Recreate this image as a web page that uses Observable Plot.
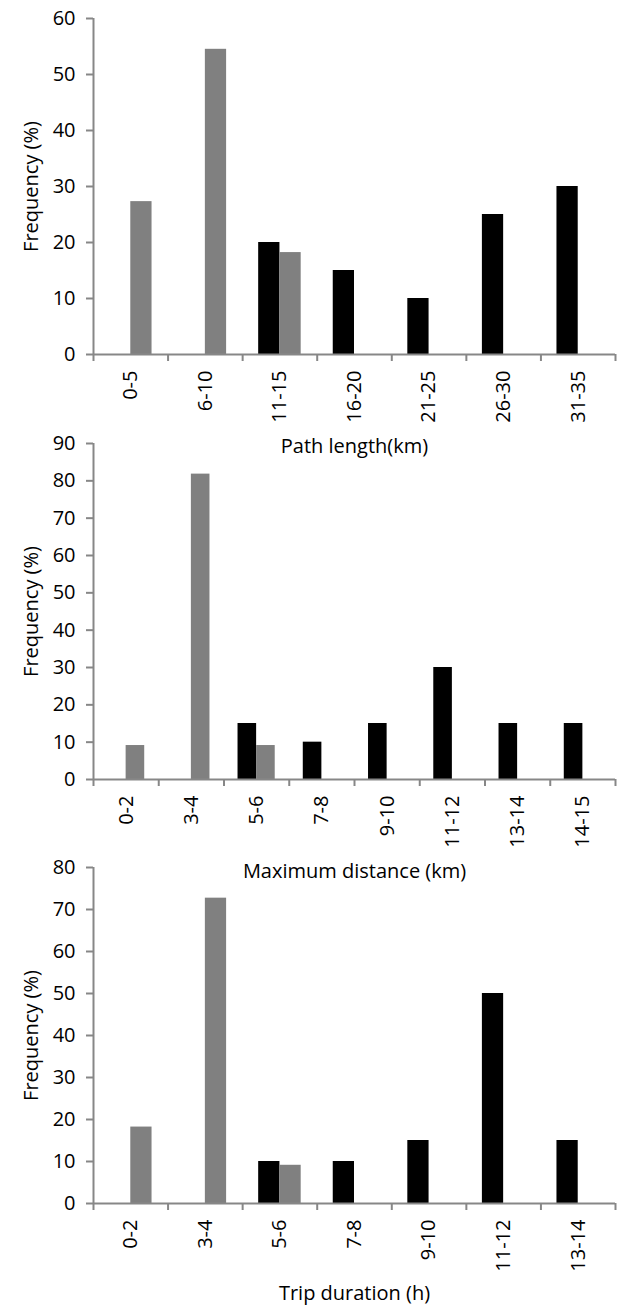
<!DOCTYPE html>
<html><head><meta charset="utf-8">
<script src="https://cdn.jsdelivr.net/npm/d3@7"></script>
<script src="https://cdn.jsdelivr.net/npm/@observablehq/plot@0.6"></script>
<style>
html,body{margin:0;padding:0;background:#fff;}
#wrap{position:relative;width:621px;height:1305px;overflow:hidden;background:#fff;}
#wrap > svg{position:absolute;left:0;margin:0;}
</style></head><body><div id="wrap"></div>
<script>
// Panel 1: Path length
const pathCats  = ["0-5","6-10","11-15","16-20","21-25","26-30","31-35"];
const pathBlack = [null, null, 20, 15, 10, 25, 30];
const pathGray  = [27.3, 54.5, 18.2, null, null, null, null];
const pathTicks = [0, 10, 20, 30, 40, 50, 60];
const pathLabel = "Path length(km)";

// Panel 2: Maximum distance
const distCats  = ["0-2","3-4","5-6","7-8","9-10","11-12","13-14","14-15"];
const distBlack = [null, null, 15, 10, 15, 30, 15, 15];
const distGray  = [9.1, 81.8, 9.1, null, null, null, null, null];
const distTicks = [0, 10, 20, 30, 40, 50, 60, 70, 80, 90];
const distLabel = "Maximum distance (km)";

// Panel 3: Trip duration
const durCats  = ["0-2","3-4","5-6","7-8","9-10","11-12","13-14"];
const durBlack = [null, null, 10, 10, 15, 50, 15];
const durGray  = [18.2, 72.7, 9.1, null, null, null, null];
const durTicks = [0, 10, 20, 30, 40, 50, 60, 70, 80];
const durLabel = "Trip duration (h)";

const W = 621, ML = 93, MR = 6, MT = 10, PH = 336, MB = 109;
const axisColor = "#878787";
const FS = 20;

function panel(cats, black, gray, ticks, xLabel, top, xLabelOffset) {
  const bw = (W - ML - MR) / cats.length;
  const barW = 0.285 * bw;
  const rows = [];
  cats.forEach((c, i) => {
    if (black[i] != null) rows.push({cat: c, series: "black", value: black[i]});
    if (gray[i] != null) rows.push({cat: c, series: "gray", value: gray[i]});
  });
  const yMax = d3.max(ticks);
  const svg = Plot.plot({
    width: W, height: MT + PH + MB,
    marginLeft: ML, marginRight: MR, marginTop: MT, marginBottom: MB,
    style: {fontFamily: "'Open Sans', sans-serif", fontSize: FS + "px", background: "transparent", overflow: "visible", color: "#000"},
    x: {type: "band", domain: cats, padding: 0, round: false},
    y: {domain: [0, yMax]},
    marks: [
      Plot.barY(rows.filter(d => d.series === "black"), {x: "cat", y: "value", fill: "#000", insetLeft: bw / 2 - barW, insetRight: bw / 2}),
      Plot.barY(rows.filter(d => d.series === "gray"), {x: "cat", y: "value", fill: "#808080", insetLeft: bw / 2, insetRight: bw / 2 - barW}),
      // x axis line
      Plot.ruleY([0], {stroke: axisColor, strokeWidth: 2}),
      // y axis line
      Plot.ruleX([cats[0]], {x: d => d, y1: 0, y2: yMax, dx: -bw / 2, stroke: axisColor, strokeWidth: 2}),
      // tick marks between categories
      Plot.ruleX(cats, {x: d => d, y1: 0, y2: 0, insetBottom: -7, dx: -bw / 2, stroke: axisColor, strokeWidth: 2}),
      Plot.ruleX([cats[cats.length - 1]], {x: d => d, y1: 0, y2: 0, insetBottom: -7, dx: bw / 2, stroke: axisColor, strokeWidth: 2}),
      Plot.axisY({ticks: ticks, tickSize: 7, tickPadding: 11, stroke: axisColor, strokeWidth: 2, fill: "#000", fontSize: FS,
        label: "Frequency (%)", labelAnchor: "center", labelOffset: 70, labelArrow: "none"}),
      Plot.axisX({tickSize: 0, tickPadding: 16, tickRotate: -90, fill: "#000", fontSize: FS,
        label: xLabel, labelAnchor: "center", labelOffset: xLabelOffset, labelArrow: "none"})
    ]
  });
  svg.style.top = top + "px";
  return svg;
}

const wrap = document.getElementById("wrap");
wrap.appendChild(panel(pathCats, pathBlack, pathGray, pathTicks, pathLabel, 8, 98));
wrap.appendChild(panel(distCats, distBlack, distGray, distTicks, distLabel, 433, 98));
wrap.appendChild(panel(durCats, durBlack, durGray, durTicks, durLabel, 857, 96));
</script></body></html>
